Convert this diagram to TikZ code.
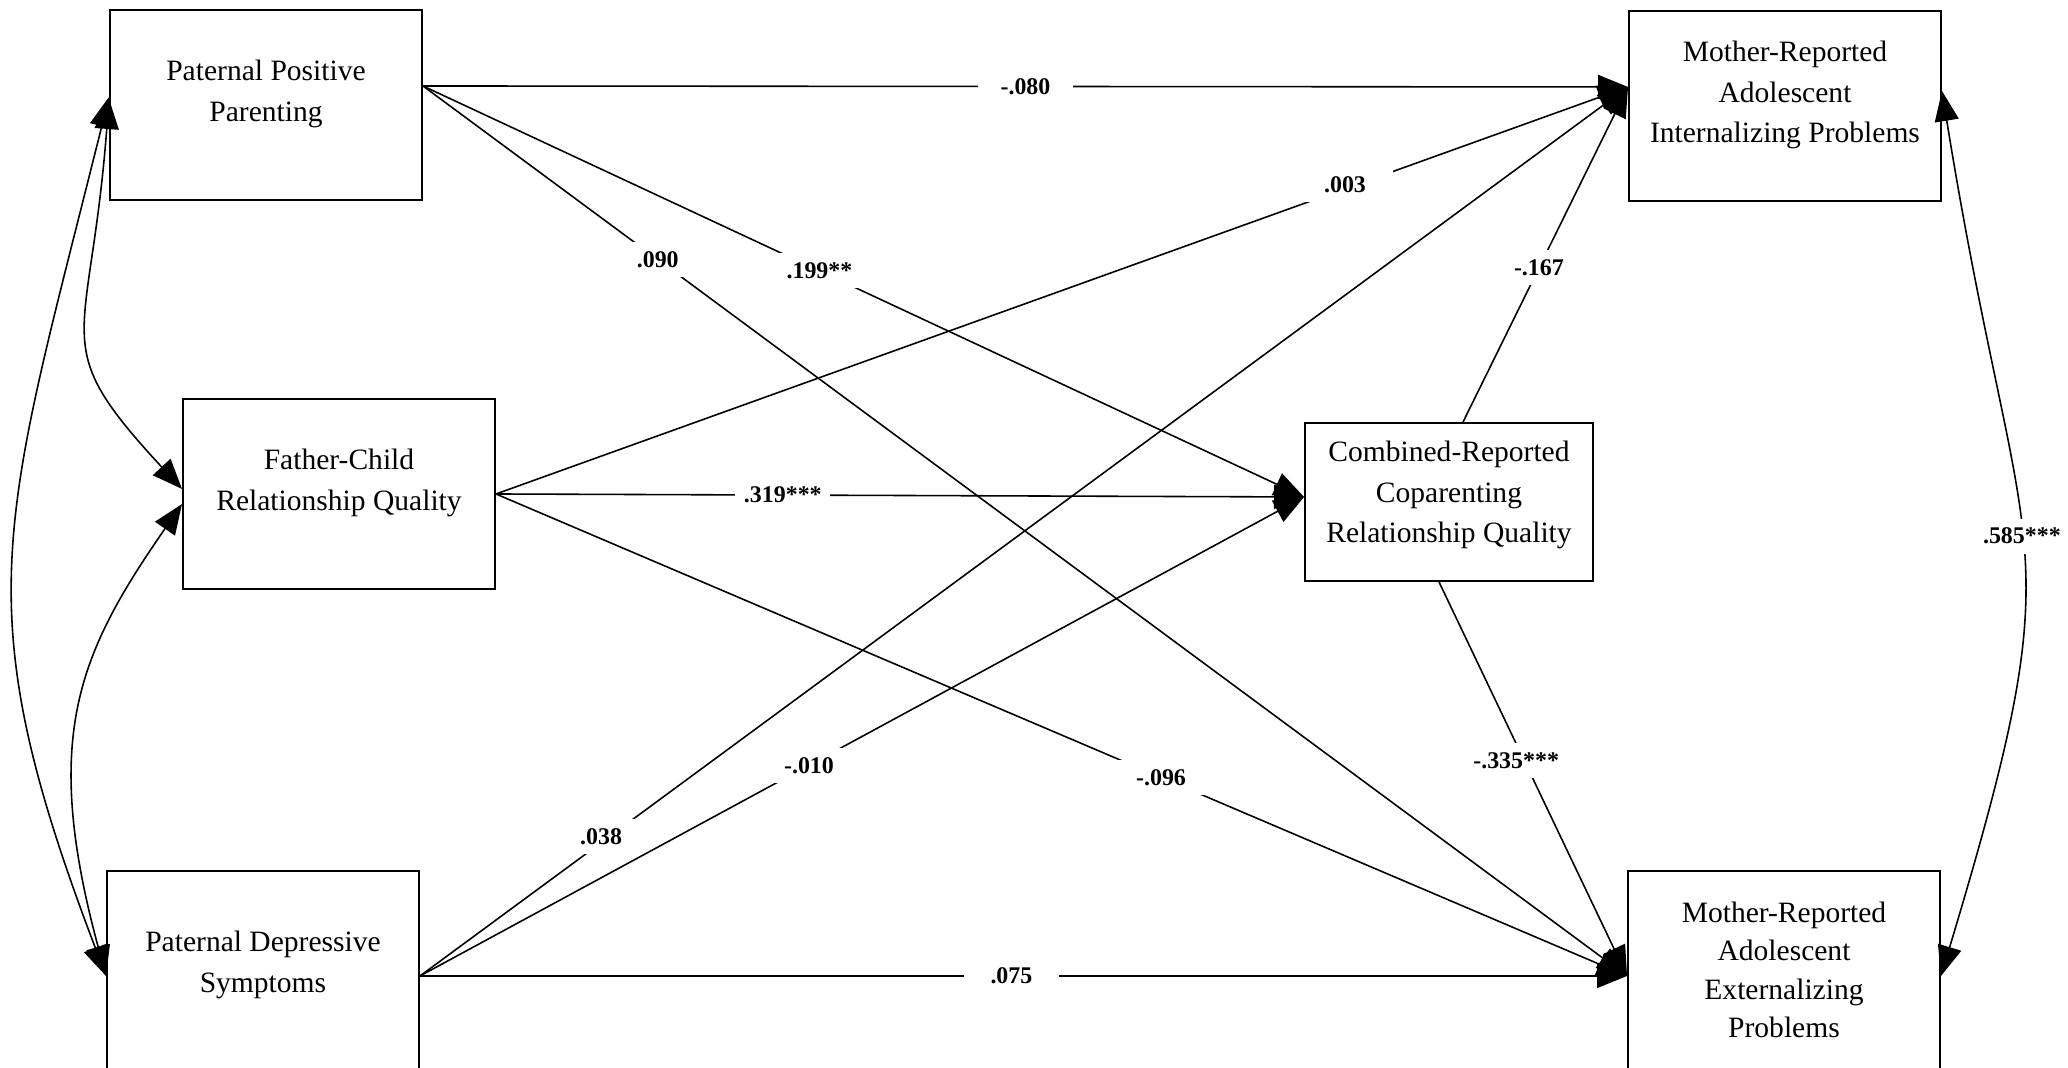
\documentclass[tikz,border=0pt]{standalone}
\usepackage{fontspec}
\setmainfont{Liberation Serif}
\usetikzlibrary{arrows.meta,positioning}

\newcommand{\varfont}{\fontsize{8.4}{11.4}\selectfont}
\newcommand{\coeffont}{\fontsize{6.8}{8}\selectfont\bfseries}

\tikzset{
  var/.style={draw, line width=0.5pt, minimum width=3.12cm, minimum height=1.9cm},
  vartext/.style={align=center, font=\varfont, yshift=0.11cm},
  coef/.style={fill=white, font=\coeffont, inner sep=0pt, minimum width=0.95cm, minimum height=0.35cm},
  effect/.style={line width=0.45pt, ->},
  corr/.style={line width=0.45pt, <->},
}

\begin{document}
\begin{tikzpicture}[x=0.01cm, y=-0.01cm, >={Triangle[length=0.3cm, width=0.24cm]}]
  \useasboundingbox (0,0) rectangle (2068,1068);

  % predictors
  \node[var, label={[vartext]center:Paternal Positive\\Parenting}] (ppp) at (266,105) {};
  \node[var, label={[vartext]center:Father-Child\\Relationship Quality}] (fcrq) at (339,494) {};
  \node[var, minimum height=2.1cm, label={[vartext]center:Paternal Depressive\\Symptoms}] (pds) at (263,976) {};

  % mediator
  \node[var, minimum width=2.88cm, minimum height=1.58cm,
    label={[vartext, yshift=-0.04cm]center:Combined-Reported\\Coparenting\\Relationship Quality}] (crcq) at (1449,502) {};

  % outcomes
  \node[var, label={[vartext]center:Mother-Reported\\Adolescent\\Internalizing Problems}] (mri) at (1785,106) {};
  \node[var, minimum height=2.1cm,
    label={[vartext, yshift=-0.05cm, font=\fontsize{8.4}{10.9}\selectfont]center:Mother-Reported\\Adolescent\\Externalizing\\Problems}] (mre) at (1784,976) {};

  % paths
  \draw[effect] ([yshift=0.19cm]ppp.east) -- node[coef, pos=0.5] {-.080} ([yshift=0.19cm]mri.west);
  \draw[effect] ([yshift=0.19cm]ppp.east) -- node[coef, pos=0.45] {.199**} ([yshift=0.05cm]crcq.west);
  \draw[effect] ([yshift=0.19cm]ppp.east) -- node[coef, pos=0.195] {.090} (mre.west);
  \draw[effect] (fcrq.east) -- node[coef, pos=0.75, yshift=0.04cm] {.003} ([yshift=0.19cm]mri.west);
  \draw[effect] (fcrq.east) -- node[coef, pos=0.355] {.319***} ([yshift=0.05cm]crcq.west);
  \draw[effect] (fcrq.east) -- node[coef, pos=0.588] {-.096} (mre.west);
  \draw[effect] (pds.east) -- node[coef, pos=0.15, yshift=0.06cm] {.038} ([yshift=0.19cm]mri.west);
  \draw[effect] (pds.east) -- node[coef, pos=0.44] {-.010} ([yshift=0.05cm]crcq.west);
  \draw[effect] (pds.east) -- node[coef, pos=0.49] {.075} (mre.west);
  \draw[effect] ([xshift=0.14cm]crcq.north) -- node[coef, pos=0.46] {-.167} ([yshift=0.19cm]mri.west);
  \draw[effect] ([xshift=-0.1cm]crcq.south) -- node[coef, pos=0.453, xshift=-0.08cm] {-.335***} (mre.west);

  % covariances
  \draw[corr] ([yshift=0.08cm]ppp.west) .. controls +(-107,430) and +(-142,-373) .. (pds.west);
  \draw[corr] ([yshift=0.06cm]ppp.west) .. controls +(-19,250) and +(-137,-148) .. ([yshift=0.05cm]fcrq.west);
  \draw[corr] ([yshift=-0.1cm]fcrq.west) .. controls +(-103,149) and +(-65,-240) .. (pds.west);
  \draw[corr] ([yshift=0.15cm]mri.east) .. controls +(80,495) and +(137,-455) .. node[coef, pos=0.48] {.585***} (mre.east);
\end{tikzpicture}
\end{document}
